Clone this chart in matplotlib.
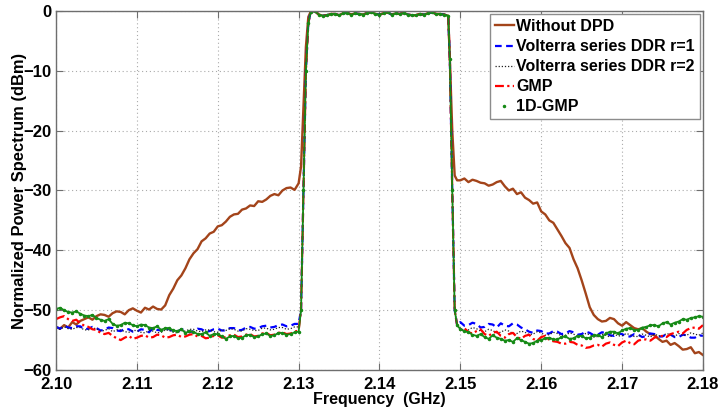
import numpy as np
import matplotlib
matplotlib.use("Agg")
import matplotlib.pyplot as plt

plt.rcParams['font.family'] = ['Liberation Sans', 'DejaVu Sans']
plt.rcParams['font.weight'] = 'bold'

# Frequency grid (GHz): lower skirt, rising edge, passband, falling edge, upper skirt
f_low = np.linspace(2.100, 2.130, 61)
f_rise = [2.1303, 2.1306, 2.1309, 2.1312]
f_pass = np.linspace(2.1315, 2.1485, 35)
f_fall = [2.1487, 2.1490, 2.1493, 2.1496]
f_high = np.linspace(2.150, 2.180, 61)

# Shared in-band response (dB)
pass_band = [-0.1, 0.0, -0.6, -0.8, -0.7, -0.5, -0.5, -0.7, -0.4, -0.3,
             -0.6, -0.4, -0.5, -0.6, -0.3, -0.2, -0.5, -0.6, -0.4, -0.2,
             -0.6, -0.4, -0.5, -0.3, -0.6, -0.7, -0.7, -0.5, -0.6, -0.4,
             -0.2, -0.5, -0.5, -0.6, -0.8]

# Without DPD
nodpd_low = [-52.8, -53.1, -52.5, -52.9, -52.0, -52.4, -51.8, -51.5, -51.2, -51.6,
             -51.0, -50.7, -50.8, -51.1, -50.5, -50.2, -50.3, -50.7, -50.0, -49.7,
             -50.1, -50.4, -49.6, -49.9, -49.4, -49.8, -49.9, -49.2, -47.5, -46.4,
             -45.0, -44.2, -43.0, -41.5, -40.5, -39.8, -38.5, -38.0, -37.2, -36.9,
             -36.0, -35.8, -35.2, -34.4, -34.0, -33.9, -33.2, -33.0, -32.5, -32.6,
             -31.8, -31.9, -31.5, -30.9, -30.6, -30.8, -30.0, -29.6, -29.5, -29.9,
             -28.8]
nodpd_rise = [-26.0, -16.0, -6.0, -1.0]
nodpd_fall = [-8.0, -20.0, -27.5, -28.3]
nodpd_high = [-28.3, -28.0, -28.6, -28.2, -28.4, -28.7, -28.8, -29.2, -29.0, -28.6,
              -28.4, -29.3, -30.0, -29.7, -30.6, -30.3, -31.2, -31.6, -32.2, -32.0,
              -33.5, -34.0, -35.0, -35.4, -36.5, -37.6, -38.8, -39.6, -41.5, -43.0,
              -45.0, -47.2, -49.5, -50.8, -51.5, -51.9, -51.8, -51.3, -51.5, -52.2,
              -52.6, -52.0, -52.5, -53.0, -53.2, -53.0, -53.6, -54.0, -54.2, -54.8,
              -55.3, -55.1, -55.8, -55.5, -56.0, -56.6, -56.5, -56.2, -57.2, -57.0,
              -57.5]

# Linearised (DPD) edges
dpd_rise = [-50.0, -30.0, -10.0, -2.0]
dpd_fall = [-8.0, -30.0, -50.0, -52.5]

# Volterra series DDR r=1
v1_low = [-52.8, -53.1, -52.6, -52.9, -53.0, -52.7, -52.7, -53.2, -53.1, -52.8,
          -53.0, -53.4, -53.3, -52.9, -53.0, -53.4, -53.5, -53.1, -53.2, -53.6,
          -53.6, -53.2, -53.3, -53.7, -53.0, -53.3, -53.4, -53.0, -53.2, -53.5,
          -53.6, -53.2, -53.3, -53.7, -53.5, -53.1, -53.2, -53.6, -53.5, -53.2,
          -53.1, -53.4, -53.4, -53.0, -53.0, -53.4, -53.3, -52.9, -52.8, -53.1,
          -53.0, -52.7, -52.6, -52.9, -52.8, -52.5, -52.4, -52.7, -52.6, -52.3,
          -52.3]
v1_high = [-52.0, -52.6, -52.5, -52.1, -52.3, -52.9, -52.8, -52.3, -52.4, -52.9,
           -52.2, -52.6, -52.7, -52.2, -52.4, -52.9, -53.2, -53.6, -53.8, -53.4,
           -53.5, -53.9, -53.9, -53.5, -53.6, -54.0, -53.9, -53.5, -53.7, -54.1,
           -54.0, -53.6, -53.8, -54.2, -54.1, -53.7, -53.8, -54.2, -54.3, -53.9,
           -54.0, -54.4, -54.4, -54.0, -54.1, -54.5, -54.3, -53.9, -54.0, -54.4,
           -54.4, -54.0, -54.1, -54.5, -54.5, -54.1, -54.2, -54.6, -54.6, -54.2,
           -54.3]

# Volterra series DDR r=2
v2_low = [-53.0, -53.2, -52.8, -53.1, -53.2, -52.9, -52.9, -53.3, -53.3, -53.0,
          -53.1, -53.5, -53.4, -53.1, -53.6, -53.3, -53.3, -53.6, -53.7, -53.4,
          -53.4, -53.7, -53.8, -53.4, -53.5, -53.8, -53.7, -53.3, -53.4, -53.7,
          -53.8, -53.4, -53.5, -53.2, -53.2, -53.5, -53.6, -53.3, -53.3, -53.6,
          -53.7, -53.3, -53.4, -53.1, -53.2, -53.5, -53.5, -53.1, -53.2, -53.4,
          -53.4, -53.0, -53.0, -53.3, -53.2, -52.9, -52.9, -53.2, -53.1, -52.8,
          -52.8]
v2_high = [-53.0, -53.4, -53.3, -52.9, -53.1, -53.5, -53.6, -53.2, -53.4, -53.8,
           -53.7, -53.3, -53.5, -53.9, -53.9, -53.5, -53.7, -54.1, -54.0, -53.6,
           -53.8, -54.2, -54.1, -53.7, -53.9, -54.3, -54.2, -53.8, -54.0, -54.4,
           -54.3, -53.9, -54.1, -54.5, -54.4, -54.0, -54.2, -54.5, -54.0, -54.3,
           -54.3, -53.9, -54.1, -54.4, -54.4, -54.0, -54.2, -54.5, -54.0, -54.3,
           -54.3, -53.9, -54.1, -54.4, -53.9, -54.2, -54.2, -53.8, -54.0, -54.2,
           -53.8]

# GMP
gmp_low = [-51.5, -51.2, -51.0, -51.5, -51.8, -51.6, -52.2, -52.6, -52.8, -53.2,
           -53.3, -53.8, -54.0, -53.8, -54.3, -54.7, -55.0, -54.6, -54.3, -54.8,
           -54.6, -54.3, -54.2, -54.6, -54.5, -54.1, -54.2, -54.6, -54.5, -54.2,
           -54.1, -54.5, -54.4, -54.1, -54.0, -54.4, -54.3, -54.7, -54.6, -54.3,
           -54.2, -54.6, -54.5, -54.2, -54.1, -54.5, -54.4, -54.1, -54.0, -54.4,
           -54.3, -53.9, -53.8, -54.2, -54.1, -53.8, -53.7, -54.0, -53.9, -53.6,
           -53.4]
gmp_high = [-53.3, -53.0, -53.7, -53.9, -53.5, -53.2, -54.0, -54.3, -53.8, -53.6,
            -54.3, -54.6, -54.0, -53.8, -54.5, -54.8, -54.3, -54.1, -54.8, -55.1,
            -54.5, -54.3, -55.0, -55.2, -55.3, -55.6, -55.6, -55.3, -55.4, -55.8,
            -55.9, -56.3, -56.2, -55.9, -55.8, -56.1, -55.6, -55.4, -55.8, -56.0,
            -55.4, -55.1, -55.5, -55.7, -55.1, -54.9, -54.9, -55.1, -54.6, -54.4,
            -54.3, -54.5, -54.0, -53.8, -53.6, -53.9, -53.3, -53.0, -52.9, -53.1,
            -52.5]

# 1D-GMP
gmp1d_low = [-49.8, -49.6, -50.0, -50.3, -50.4, -50.2, -50.6, -50.9, -51.0, -50.8,
             -51.3, -51.6, -51.8, -51.5, -52.3, -52.6, -52.5, -52.1, -52.2, -52.5,
             -52.7, -52.4, -52.5, -52.9, -53.0, -52.7, -53.3, -53.0, -53.0, -53.4,
             -53.5, -53.2, -53.8, -53.5, -53.6, -54.0, -54.0, -53.7, -54.3, -54.0,
             -54.0, -54.4, -54.8, -54.4, -54.3, -54.7, -54.6, -54.2, -54.1, -54.5,
             -54.4, -54.0, -53.9, -54.3, -54.2, -53.8, -53.8, -54.1, -54.0, -53.7,
             -53.6]
gmp1d_high = [-53.2, -53.5, -53.7, -54.1, -54.3, -54.0, -54.5, -54.8, -54.2, -54.6,
              -54.8, -55.1, -55.0, -55.3, -54.7, -55.0, -55.3, -55.6, -55.5, -55.1,
              -55.0, -54.7, -54.6, -54.9, -54.9, -54.5, -54.4, -54.8, -54.7, -54.3,
              -54.3, -54.7, -54.6, -54.2, -54.2, -54.5, -53.9, -53.6, -53.6, -53.9,
              -53.4, -53.1, -53.0, -53.3, -53.3, -52.9, -52.8, -52.5, -52.5, -52.7,
              -52.2, -52.0, -52.4, -52.1, -51.9, -51.5, -51.6, -51.3, -51.2, -51.0,
              -51.1]

xticks = [2.10, 2.11, 2.12, 2.13, 2.14, 2.15, 2.16, 2.17, 2.18]
yticks = [0, -10, -20, -30, -40, -50, -60]

freq = np.concatenate([f_low, f_rise, f_pass, f_fall, f_high])


def spectrum(low, rise, band, fall, high):
    return np.concatenate([low, rise, band, fall, high])


fig = plt.figure(figsize=(7.22, 4.09), dpi=100)
ax = fig.add_axes([0.0776, 0.0954, 0.896, 0.8777])

ax.plot(freq, spectrum(nodpd_low, nodpd_rise, pass_band, nodpd_fall, nodpd_high),
        color='#A3441A', lw=1.7, label='Without DPD')
ax.plot(freq, spectrum(v1_low, dpd_rise, pass_band, dpd_fall, v1_high),
        color='#0000FF', lw=1.6, ls=(0, (3, 2)), label='Volterra series DDR r=1')
ax.plot(freq, spectrum(v2_low, dpd_rise, pass_band, dpd_fall, v2_high),
        color='#222222', lw=0.9, ls=(0, (1, 1.5)), label='Volterra series DDR r=2')
ax.plot(freq, spectrum(gmp_low, dpd_rise, pass_band, dpd_fall, gmp_high),
        color='#FF0000', lw=1.6, ls=(0, (4, 1.5, 1, 1.5)), label='GMP')
ax.plot(freq, spectrum(gmp1d_low, dpd_rise, pass_band, dpd_fall, gmp1d_high),
        color='#168A16', lw=1.3, ls='-', marker='.', ms=3, label='1D-GMP')

ax.set_xlim(2.10, 2.18)
ax.set_ylim(-60, 0)
ax.set_xticks(xticks)
ax.set_xticklabels([f'{t:.2f}' for t in xticks])
ax.set_yticks(yticks)
ax.tick_params(direction='in', top=True, right=True, length=5,
               labelsize=12, color='#6e6e6e', pad=3)
ax.tick_params(axis='x', pad=5)
for lab in ax.get_xticklabels() + ax.get_yticklabels():
    lab.set_fontweight('bold')
for sp in ax.spines.values():
    sp.set_color('#6e6e6e')
    sp.set_linewidth(1.0)
ax.grid(True, ls=(0, (1, 2.5)), color='#aaaaaa', lw=0.8)

ax.set_xlabel('Frequency  (GHz)', fontsize=11.5, fontweight='bold', labelpad=0)
ax.set_ylabel('Normalized Power Spectrum (dBm)', fontsize=11.9, fontweight='bold', labelpad=-2)

leg_handles, leg_labels = ax.get_legend_handles_labels()
leg_handles[-1] = plt.Line2D([], [], ls='none', marker='.', ms=3, color='#168A16')
leg = ax.legend(leg_handles, leg_labels, loc='upper right',
                prop={'weight': 'bold', 'size': 11.5}, handlelength=1.2,
                handletextpad=0.15, borderpad=0.3, labelspacing=0.32,
                fancybox=False, framealpha=1, edgecolor='#8c8c8c',
                borderaxespad=0.2)
leg.get_frame().set_linewidth(1.0)

fig.savefig('out.png', dpi=100)
